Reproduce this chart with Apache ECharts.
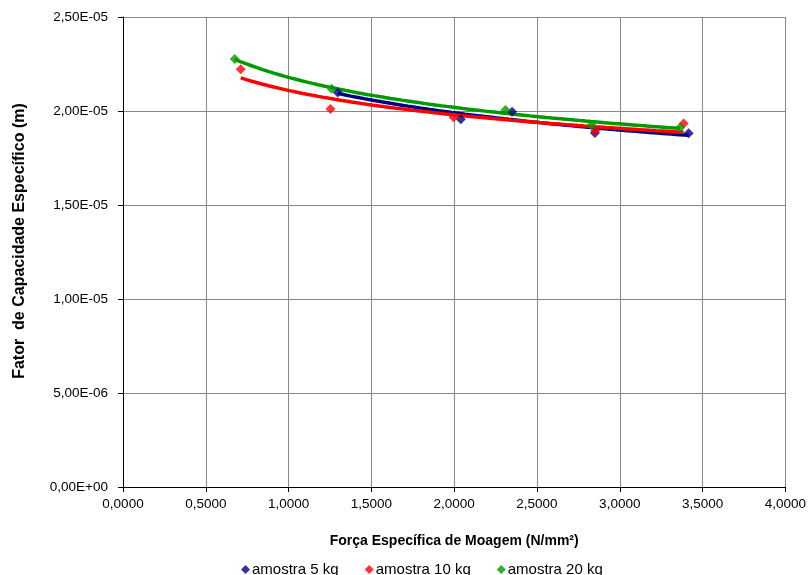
<!DOCTYPE html>
<html>
<head>
<meta charset="utf-8">
<script src="https://cdn.jsdelivr.net/npm/echarts@6/dist/echarts.min.js"></script>
<style>
  html, body { margin: 0; padding: 0; background: #fff; }
  #chart { width: 809px; height: 575px; }
</style>
</head>
<body>
<div id="chart"></div>
<script>
// Specific grinding force (N/mm²) and specific capacity factor (m) per sample mass
const seriesNames = ['amostra 5 kg', 'amostra 10 kg', 'amostra 20 kg'];
const seriesColors = ['#000080', '#FF0000', '#009900'];

const force5 = [1.297, 2.040, 2.350, 2.850, 3.416];
const factor5 = [2.099e-5, 1.956e-5, 1.996e-5, 1.883e-5, 1.881e-5];

const force10 = [0.711, 1.253, 1.996, 2.852, 3.386];
const factor10 = [2.222e-5, 2.011e-5, 1.967e-5, 1.894e-5, 1.934e-5];

const force20 = [0.675, 1.260, 2.310, 2.830, 3.365];
const factor20 = [2.277e-5, 2.118e-5, 2.005e-5, 1.926e-5, 1.912e-5];

const forces = [force5, force10, force20];
const factors = [factor5, factor10, factor20];

// Power-law trendline (y = a·x^b), least squares on ln-ln values
function powerFit(xs, ys) {
  const n = xs.length;
  let sx = 0, sy = 0, sxx = 0, sxy = 0;
  for (let i = 0; i < n; i++) {
    const lx = Math.log(xs[i]), ly = Math.log(ys[i]);
    sx += lx; sy += ly; sxx += lx * lx; sxy += lx * ly;
  }
  const b = (n * sxy - sx * sy) / (n * sxx - sx * sx);
  const a = Math.exp((sy - b * sx) / n);
  return { a, b };
}

function trendPoints(xs, ys) {
  const { a, b } = powerFit(xs, ys);
  const lo = Math.min(...xs), hi = Math.max(...xs);
  const pts = [];
  const steps = 80;
  for (let i = 0; i <= steps; i++) {
    const x = lo + (hi - lo) * i / steps;
    pts.push([x, a * Math.pow(x, b)]);
  }
  return pts;
}

function fmtSci(v) {
  if (v === 0) return '0,00E+00';
  const e = Math.floor(Math.log10(Math.abs(v)) + 1e-9);
  const m = v / Math.pow(10, e);
  const es = (e < 0 ? '-' : '+') + String(Math.abs(e)).padStart(2, '0');
  return m.toFixed(2).replace('.', ',') + 'E' + es;
}

const series = [];
// trendlines first
for (let k = 0; k < 3; k++) {
  series.push({
    name: seriesNames[k] + ' trend',
    type: 'line',
    data: trendPoints(forces[k], factors[k]),
    showSymbol: false,
    symbol: 'none',
    smooth: false,
    lineStyle: { color: seriesColors[k], width: 3.5 },
    silent: true,
    z: 2 + k
  });
}
// data markers
for (let k = 0; k < 3; k++) {
  series.push({
    name: seriesNames[k],
    type: 'scatter',
    data: forces[k].map((x, i) => [x, factors[k][i]]),
    symbol: 'diamond',
    symbolSize: 10,
    itemStyle: { color: seriesColors[k] },
    z: 6 + k
  });
}

const chart = echarts.init(document.getElementById('chart'), null, { renderer: 'canvas' });
chart.setOption({
  animation: false,
  backgroundColor: '#ffffff',
  textStyle: { fontFamily: 'Liberation Sans, Arial, sans-serif' },
  grid: { left: 123, right: 22, top: 17, bottom: 88, containLabel: false },
  xAxis: {
    type: 'value',
    min: 0, max: 4, interval: 0.5,
    name: 'Força Específica de Moagem (N/mm²)',
    nameLocation: 'middle',
    nameGap: 47,
    nameTextStyle: { fontSize: 14, fontWeight: 'bold', color: '#000' },
    axisLine: { show: true, lineStyle: { color: '#000', width: 1 } },
    axisTick: { show: true, inside: false, length: 5, lineStyle: { color: '#000' } },
    axisLabel: { fontSize: 13.5, color: '#000', margin: 10, formatter: v => v.toFixed(4).replace('.', ',') },
    splitLine: { show: true, lineStyle: { color: '#888', width: 1 } }
  },
  yAxis: {
    type: 'value',
    min: 0, max: 2.5e-5, interval: 0.5e-5,
    name: 'Fator  de Capacidade Específico (m)',
    nameLocation: 'middle',
    nameGap: 95,
    nameTextStyle: { fontSize: 16, fontWeight: 'bold', color: '#000', padding: [0, 0, 0, 22] },
    axisLine: { show: true, lineStyle: { color: '#000', width: 1 } },
    axisTick: { show: true, inside: false, length: 5, lineStyle: { color: '#000' } },
    axisLabel: { fontSize: 13.5, color: '#000', margin: 15, formatter: fmtSci },
    splitLine: { show: true, lineStyle: { color: '#888', width: 1 } }
  },
  legend: {
    data: seriesNames.map((n, k) => ({ name: n, icon: 'diamond', itemStyle: { color: seriesColors[k] } })),
    top: 557,
    left: 236,
    itemWidth: 9,
    itemHeight: 9,
    itemGap: 26,
    textStyle: { fontSize: 15, color: '#000', padding: [0, 0, 0, -3] }
  },
  series: series
});
</script>
</body>
</html>
